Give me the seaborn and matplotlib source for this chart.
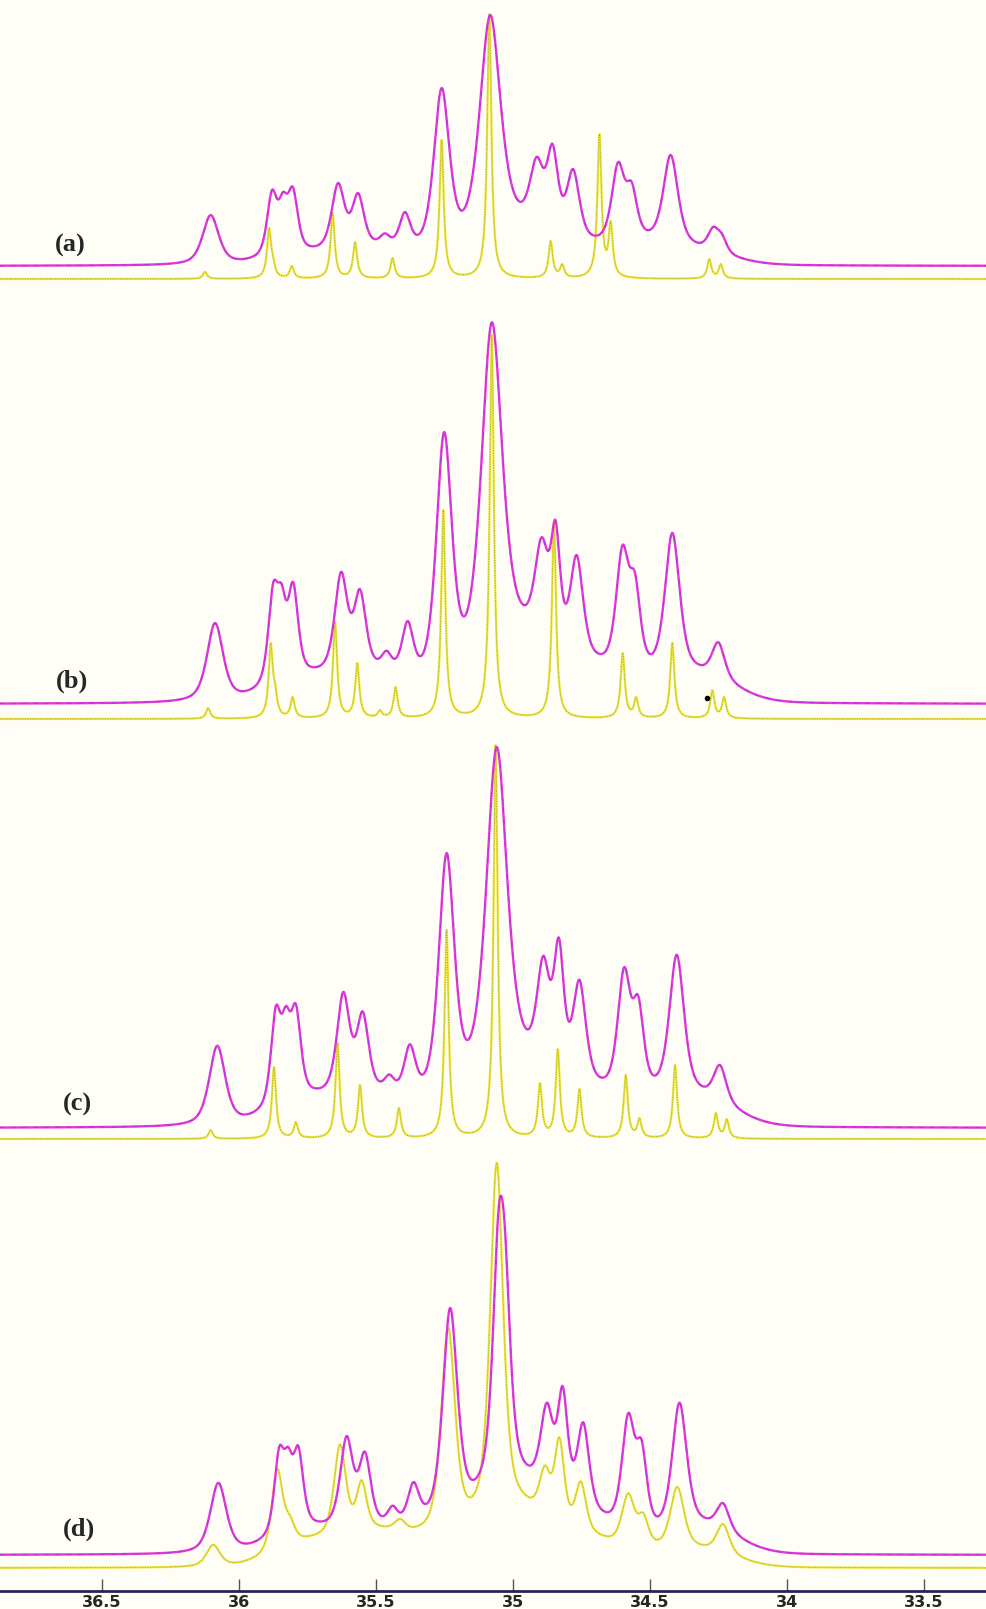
import numpy as np
import seaborn as sns
import matplotlib.pyplot as plt

# eje de desplazamiento quimico (ppm), invertido como en RMN
ppm_left, ppm_right = 36.872, 33.273
ticks = [36.5, 36, 35.5, 35, 34.5, 34, 33.5]
tick_labels = ["36.5", "36", "35.5", "35", "34.5", "34", "33.5"]
panel_labels = ["(a)", "(b)", "(c)", "(d)"]

# ---- (a) ----
a_exp_pos = [36.103, 35.879, 35.839, 35.803, 35.638, 35.565, 35.467, 35.394, 35.260, 35.083,
             34.913, 34.855, 34.780, 34.616, 34.566, 34.424, 34.269, 34.237]
a_exp_h = [51, 76, 74, 79, 83, 73, 33, 53, 178, 251, 109, 121, 96, 104, 84, 111, 39, 33]
a_exp_w = [0.035, 0.022, 0.02, 0.022, 0.028, 0.026, 0.022, 0.024, 0.034, 0.045,
           0.03, 0.024, 0.028, 0.028, 0.024, 0.032, 0.024, 0.022]
a_dip_pos = [36.022, 35.748, 35.496, 35.365, 35.187, 34.974, 34.876, 34.817, 34.693, 34.488, 34.342, 34.196, 34.098]
a_dip_h = [8, 21, 26, 38, 54, 64, 104, 73, 29, 38, 29, 9, 0]
a_sim_pos = [36.124, 35.890, 35.876, 35.807, 35.658, 35.576, 35.439, 35.260, 35.086, 34.862,
             34.820, 34.684, 34.643, 34.283, 34.241]
a_sim_h = [7, 51, 24, 13, 66, 37, 21, 139, 265, 38, 15, 145, 58, 20, 15]

# ---- (b) ----
b_exp_pos = [36.087, 35.875, 35.844, 35.802, 35.627, 35.558, 35.461, 35.384, 35.251, 35.077,
             34.895, 34.844, 34.767, 34.600, 34.554, 34.418, 34.250]
b_exp_h = [81, 121, 120, 122, 130, 112, 55, 81, 272, 382, 167, 183, 146, 159, 131, 171, 62]
b_exp_w = [0.035, 0.022, 0.02, 0.022, 0.028, 0.026, 0.022, 0.025, 0.034, 0.045,
           0.03, 0.02, 0.028, 0.028, 0.024, 0.032, 0.028]
b_dip_pos = [35.990, 35.734, 35.588, 35.491, 35.427, 35.351, 35.175, 34.962, 34.862, 34.803,
             34.694, 34.475, 34.323, 34.183, 34.098]
b_dip_h = [14, 36, 99, 41, 44, 59, 84, 99, 159, 111, 46, 59, 44, 16, 1]
b_sim_pos = [36.112, 35.884, 35.868, 35.804, 35.649, 35.568, 35.485, 35.428, 35.254, 35.077,
             34.850, 34.599, 34.550, 34.418, 34.272, 34.229]
b_sim_h = [11, 76, 36, 22, 97, 56, 9, 32, 209, 384, 197, 66, 22, 76, 29, 22]
b_mark_pos = [34.292]
b_mark_h = [21]

# ---- (c) ----
c_exp_pos = [36.079, 35.865, 35.828, 35.792, 35.619, 35.548, 35.451, 35.376, 35.242, 35.059,
             34.889, 34.832, 34.757, 34.594, 34.542, 34.402, 34.244]
c_exp_h = [82, 122, 122, 124, 133, 114, 55, 83, 275, 381, 170, 186, 147, 161, 132, 173, 63]
c_exp_w = [0.035, 0.022, 0.02, 0.022, 0.028, 0.026, 0.022, 0.025, 0.034, 0.045,
           0.028, 0.022, 0.028, 0.028, 0.024, 0.032, 0.028]
c_dip_pos = [35.984, 35.722, 35.583, 35.485, 35.418, 35.342, 35.166, 34.949, 34.854, 34.794,
             34.676, 34.463, 34.317, 34.159, 34.086]
c_dip_h = [18, 38, 101, 43, 46, 60, 86, 98, 161, 111, 46, 60, 45, 15, 1]
c_sim_pos = [36.103, 35.872, 35.792, 35.640, 35.558, 35.416, 35.242, 35.063, 34.901, 34.836,
             34.757, 34.588, 34.538, 34.408, 34.259, 34.219]
c_sim_h = [9, 72, 17, 96, 54, 31, 209, 394, 56, 90, 50, 64, 21, 74, 26, 20]

# ---- (d) ----
d_exp_pos = [36.075, 35.853, 35.820, 35.783, 35.607, 35.540, 35.439, 35.363, 35.229, 35.053,
             35.029, 34.876, 34.818, 34.743, 34.579, 34.530, 34.392, 34.233]
d_exp_h = [72, 108, 108, 109, 117, 101, 50, 73, 247, 343, 327, 150, 165, 132, 142, 115, 152, 52]
d_exp_w = [0.035, 0.022, 0.02, 0.022, 0.028, 0.026, 0.022, 0.025, 0.032, 0.026,
           0.026, 0.028, 0.022, 0.026, 0.028, 0.024, 0.032, 0.028]
d_dip_pos = [35.984, 35.716, 35.570, 35.473, 35.406, 35.329, 35.156, 34.937, 34.842, 34.781,
             34.670, 34.445, 34.306, 34.15, 34.08]
d_dip_h = [15, 33, 90, 37, 42, 53, 77, 88, 142, 98, 40, 53, 40, 12, 2]
d_sim_pos = [36.094, 35.860, 35.814, 35.631, 35.552, 35.412, 35.236, 35.059, 34.883, 34.830,
             34.752, 34.579, 34.524, 34.400, 34.233]
d_sim_h = [23, 99, 53, 121, 85, 50, 240, 405, 103, 130, 83, 75, 55, 81, 44]
d_sim_w = [0.03, 0.024, 0.022, 0.026, 0.022, 0.024, 0.03, 0.028, 0.024, 0.021,
           0.023, 0.028, 0.023, 0.03, 0.028]
d_sim_dip_pos = [35.996, 35.722, 35.588, 35.473, 35.357, 35.150, 34.937, 34.779, 34.676, 34.469, 34.287, 34.101]
d_sim_dip_h = [11, 30, 78, 38, 35, 78, 66, 75, 28, 30, 24, 2]

# linea base de cada traza (pixeles desde arriba)
exp_base = [266, 704, 1128, 1555]
sim_base = [279, 719, 1139, 1568]
label_xy = [(70, 245), (72, 681), (77, 1104), (79, 1529)]

# fondo ancho bajo el multiplete (componentes anchas del ajuste)
HUMP_POS = [35.75, 35.5, 35.25, 35.0, 34.75, 34.5, 34.3]
HUMP_W = 0.14
ZERO_POS = [36.6, 36.4, 36.25, 34.0, 33.7]

MAGENTA = "#e236d6"
VIOLET = "#5b3cf0"
YELLOW = "#ece43a"
DARK = "#3d5a2a"
BG = "#fffef6"


def pv(x, x0, w, eta):
    u = ((x - x0) / w) ** 2
    return eta / (1 + u) + (1 - eta) * np.exp(-np.log(2) * u)


def spectrum(x, pos, h, w, dip_pos=(), dip_h=(), eta=0.6, hump=True):
    pos = np.asarray(pos, float)
    w = np.broadcast_to(np.asarray(w, float), pos.shape)
    tx = np.concatenate([pos, np.asarray(dip_pos, float), ZERO_POS])
    ty = np.concatenate([np.asarray(h, float), np.asarray(dip_h, float), np.zeros(len(ZERO_POS))])

    def basis(xx):
        cols = [pv(xx[:, None], pos[None, :], w[None, :], eta)]
        if hump:
            hp = np.asarray(HUMP_POS)
            cols.append(pv(xx[:, None], hp[None, :], HUMP_W, 0.0))
        return np.hstack(cols)

    M = basis(tx)
    active = np.ones(M.shape[1], bool)
    amp = np.zeros(M.shape[1])
    for _ in range(20):
        sol = np.linalg.lstsq(M[:, active], ty, rcond=None)[0]
        amp[:] = 0
        amp[active] = sol
        if (sol >= 0).all():
            break
        active[np.where(active)[0][sol < 0]] = False
    amp = np.clip(amp, 0, None)
    return basis(x) @ amp


ppm = np.linspace(ppm_left, ppm_right, 3600)

exp_sets = [(a_exp_pos, a_exp_h, a_exp_w, a_dip_pos, a_dip_h),
            (b_exp_pos, b_exp_h, b_exp_w, b_dip_pos, b_dip_h),
            (c_exp_pos, c_exp_h, c_exp_w, c_dip_pos, c_dip_h),
            (d_exp_pos, d_exp_h, d_exp_w, d_dip_pos, d_dip_h)]
sim_sets = [(a_sim_pos, a_sim_h, 0.009, (), (), 1.0, False),
            (b_sim_pos, b_sim_h, 0.009, (), (), 1.0, False),
            (c_sim_pos, c_sim_h, 0.009, (), (), 1.0, False),
            (d_sim_pos, d_sim_h, d_sim_w, d_sim_dip_pos, d_sim_dip_h, 0.6, True)]

sns.set_theme(style="white")
fig = plt.figure(figsize=(9.86, 16.09), dpi=100, facecolor=BG)
ax = fig.add_axes([0, 18 / 1609, 1, 1591 / 1609])
ax.set_facecolor(BG)

for i in range(4):
    pos, h, w, dp, dh = exp_sets[i]
    y_exp = exp_base[i] - spectrum(ppm, pos, h, w, dp, dh)
    spos, sh, sw, sdp, sdh, eta, hump = sim_sets[i]
    y_sim = sim_base[i] - spectrum(ppm, spos, sh, sw, sdp, sdh, eta, hump)

    sns.lineplot(x=ppm, y=y_sim, ax=ax, color=YELLOW, lw=1.6, sort=False, estimator=None)
    sns.lineplot(x=ppm, y=y_sim, ax=ax, color=DARK, lw=0.6, alpha=0.55, sort=False,
                 estimator=None, linestyle=(0, (1, 2)))
    sns.lineplot(x=ppm, y=y_exp, ax=ax, color=MAGENTA, lw=1.7, sort=False, estimator=None)
    sns.lineplot(x=ppm, y=y_exp, ax=ax, color=VIOLET, lw=0.8, alpha=0.45, sort=False,
                 estimator=None, linestyle=(0, (4, 6)))

    lx, ly = label_xy[i]
    fig.text(lx / 986, 1 - ly / 1609, panel_labels[i], ha="center", va="center",
             fontsize=19, fontweight="bold", family=["Liberation Serif", "DejaVu Serif"])

ax.scatter(b_mark_pos, [sim_base[1] - v for v in b_mark_h], s=9, color="black", zorder=5)

ax.set_xlim(ppm_left, ppm_right)
ax.set_ylim(1591, 0)
ax.set_yticks([])
ax.set_xticks(ticks)
ax.set_xticklabels(tick_labels, fontweight="bold", family=["Liberation Sans Narrow", "DejaVu Sans"])
ax.tick_params(axis="x", direction="in", length=8.5, width=1, color="#555555",
               pad=3, labelsize=11.5, bottom=True)
for s in ["left", "top", "right"]:
    ax.spines[s].set_visible(False)
ax.spines["bottom"].set_color("#2a2456")
ax.spines["bottom"].set_linewidth(2)
ax.set_xlabel("")
ax.set_ylabel("")

fig.savefig("out.png", dpi=100, facecolor=BG)
